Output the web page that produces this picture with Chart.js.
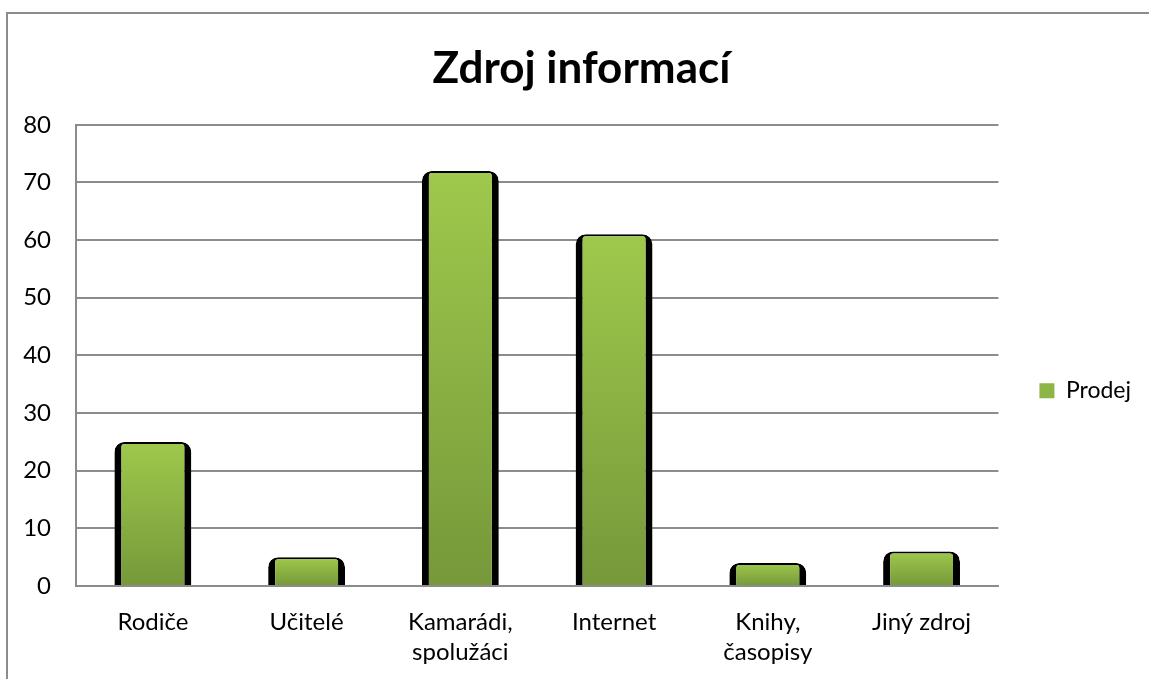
<!DOCTYPE html>
<html>
<head>
<meta charset="utf-8">
<script src="https://cdn.jsdelivr.net/npm/chart.js@4.4.0/dist/chart.umd.min.js"></script>
<style>
  html, body { margin: 0; padding: 0; background: #fff; overflow: hidden; }
  #wrap { position: relative; width: 1149px; height: 679px; }
  #frame {
    position: absolute; left: 6px; top: 12px; width: 1200px; height: 720px;
    border: 2px solid #8c8c8c; pointer-events: none;
  }
</style>
</head>
<body>
<div id="wrap">
  <canvas id="myChart" width="1149" height="679"></canvas>
  <div id="frame"></div>
</div>
<script>
// data
const categories = ['Rodiče', 'Učitelé', ['Kamarádi,', 'spolužáci'], 'Internet', ['Knihy,', 'časopisy'], 'Jiný zdroj'];
const prodej = [25, 5, 72, 61, 4, 6];
const yTicks = [0, 10, 20, 30, 40, 50, 60, 70, 80];

const FONT = 'Lato, "Open Sans", sans-serif';

// each bar gets its own top-to-bottom gradient
function barGradient(context) {
  const chart = context.chart;
  const { ctx, scales } = chart;
  if (!scales.y || context.type !== 'data') return '#8db646';
  const top = scales.y.getPixelForValue(context.raw);
  const bottom = scales.y.getPixelForValue(0);
  if (!isFinite(top) || !isFinite(bottom) || top === bottom) return '#8db646';
  const g = ctx.createLinearGradient(0, top, 0, bottom);
  g.addColorStop(0, '#9ec94c');
  g.addColorStop(1, '#76983a');
  return g;
}

const ctx = document.getElementById('myChart').getContext('2d');

const myChart = new Chart(ctx, {
  type: 'bar',
  data: {
    labels: categories,
    datasets: [{
      label: 'Prodej',
      data: prodej,
      backgroundColor: barGradient,
      borderColor: '#000',
      borderWidth: { top: 2, left: 7, right: 7, bottom: 0 },
      borderRadius: { topLeft: 10, topRight: 10 },
      borderSkipped: 'start',
      barPercentage: 0.5,
      categoryPercentage: 1.0
    }]
  },
  options: {
    responsive: false,
    animation: false,
    layout: { padding: { left: 0, right: 8, top: 0, bottom: 0 } },
    plugins: {
      title: {
        display: true,
        // en space in front nudges the centred title a little to the right
        text: '\u2002Zdroj informací',
        color: '#000',
        font: { family: FONT, size: 44, weight: 'bold' },
        padding: { top: 42, bottom: 30 }
      },
      legend: {
        position: 'right',
        align: 'center',
        // empty title only pushes the entry down a bit
        title: { display: true, text: '', font: { size: 12 }, padding: 44 },
        labels: {
          color: '#000',
          font: { family: FONT, size: 23 },
          boxWidth: 15,
          boxHeight: 15,
          padding: 41,
          generateLabels: function (chart) {
            return [{
              text: 'Prodej',
              fillStyle: '#8db646',
              strokeStyle: '#8db646',
              fontColor: '#000',
              lineWidth: 0,
              hidden: false,
              datasetIndex: 0
            }];
          }
        }
      },
      tooltip: { enabled: false }
    },
    scales: {
      x: {
        grid: { display: false },
        border: { display: true, color: '#8c8c8c', width: 2 },
        ticks: {
          color: '#000',
          font: { family: FONT, size: 24, lineHeight: 1.25 },
          maxRotation: 0,
          padding: 13
        },
        afterFit: function (scale) { scale.height = 93; }
      },
      y: {
        min: 0,
        max: 80,
        afterBuildTicks: function (scale) {
          scale.ticks = yTicks.map(v => ({ value: v }));
        },
        grid: { color: '#8c8c8c', lineWidth: 2, drawTicks: false },
        border: { display: true, color: '#8c8c8c', width: 2 },
        ticks: {
          color: '#000',
          font: { family: FONT, size: 24 },
          padding: 25
        },
        afterFit: function (scale) { scale.width = 76; }
      }
    }
  }
});
</script>
</body>
</html>
